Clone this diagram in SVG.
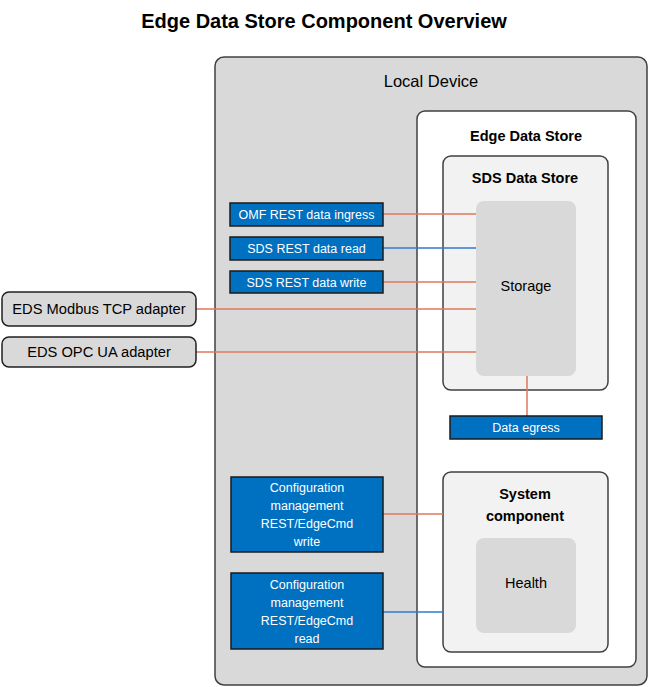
<svg xmlns="http://www.w3.org/2000/svg" width="649" height="687" viewBox="0 0 649 687">
<style>
text{font-family:"Liberation Sans",Arial,sans-serif;text-anchor:middle;fill:#000}
.cont{stroke:#404040;stroke-width:1.5}
.blue{fill:#0070c0;stroke:#1a1a1a;stroke-width:1.5}
.bt{fill:#fff;font-size:12.5px}
.adp{fill:#d9d9d9;stroke:#202020;stroke-width:1.5}
.o{stroke:#e0775a;stroke-width:1.5;fill:none}
.b{stroke:#2f7ad0;stroke-width:1.5;fill:none}
.bold{font-weight:bold}
</style>
<rect width="649" height="687" fill="#fff"/>
<text x="324" y="28" class="bold" font-size="20">Edge Data Store Component Overview</text>
<g id="local-device">
<rect x="215" y="57" width="432" height="628" rx="9" fill="#d9d9d9" class="cont"/>
<text x="431" y="87" font-size="16.5">Local Device</text>
</g>
<g id="edge-data-store">
<rect x="417" y="111" width="219" height="556" rx="8" fill="#fff" class="cont"/>
<text x="526" y="141" class="bold" font-size="14.5">Edge Data Store</text>
</g>
<g id="sds-data-store">
<rect x="443" y="156" width="165" height="234" rx="8" fill="#f2f2f2" class="cont"/>
<text x="525" y="183" class="bold" font-size="14.5">SDS Data Store</text>
</g>
<g id="storage">
<rect x="476" y="201" width="100" height="175" rx="8" fill="#d9d9d9"/>
<text x="526" y="291" font-size="14.5">Storage</text>
</g>
<g id="system-component">
<rect x="443" y="472" width="165" height="180" rx="8" fill="#f2f2f2" class="cont"/>
<text x="525" y="499" class="bold" font-size="14.5">System</text>
<text x="525" y="521" class="bold" font-size="14.5">component</text>
</g>
<g id="health">
<rect x="476" y="538" width="100" height="95" rx="8" fill="#d9d9d9"/>
<text x="526" y="588" font-size="14.5">Health</text>
</g>
<g id="connectors">
<line x1="383" y1="214" x2="476" y2="214" class="o"/>
<line x1="383" y1="248" x2="476" y2="248" class="b"/>
<line x1="383" y1="282" x2="476" y2="282" class="o"/>
<line x1="196" y1="309" x2="476" y2="309" class="o"/>
<line x1="196" y1="352" x2="476" y2="352" class="o"/>
<line x1="527" y1="376" x2="527" y2="416" class="o"/>
<line x1="383" y1="514" x2="443" y2="514" class="o"/>
<line x1="383" y1="612" x2="443" y2="612" class="b"/>
</g>
<g id="omf-ingress">
<rect x="230" y="203" width="153" height="23" class="blue"/>
<text x="306.5" y="219" class="bt">OMF REST data ingress</text>
</g>
<g id="sds-read">
<rect x="230" y="237" width="153" height="23" class="blue"/>
<text x="306.5" y="253" class="bt">SDS REST data read</text>
</g>
<g id="sds-write">
<rect x="230" y="271" width="153" height="22" class="blue"/>
<text x="306.5" y="286.5" class="bt">SDS REST data write</text>
</g>
<g id="modbus-adapter">
<rect x="2" y="292" width="194" height="34" rx="7" class="adp"/>
<text x="99" y="314" font-size="14.7">EDS Modbus TCP adapter</text>
</g>
<g id="opcua-adapter">
<rect x="2" y="337" width="194" height="30" rx="7" class="adp"/>
<text x="99" y="357" font-size="14.7">EDS OPC UA adapter</text>
</g>
<g id="data-egress">
<rect x="450" y="416" width="152" height="23" class="blue"/>
<text x="526" y="432" class="bt">Data egress</text>
</g>
<g id="config-write">
<rect x="231" y="477" width="152" height="75" class="blue"/>
<text x="307" y="492" class="bt">Configuration</text>
<text x="307" y="510" class="bt">management</text>
<text x="307" y="528" class="bt">REST/EdgeCmd</text>
<text x="307" y="546" class="bt">write</text>
</g>
<g id="config-read">
<rect x="231" y="573" width="152" height="76" class="blue"/>
<text x="307" y="589" class="bt">Configuration</text>
<text x="307" y="607" class="bt">management</text>
<text x="307" y="625" class="bt">REST/EdgeCmd</text>
<text x="307" y="643" class="bt">read</text>
</g>
</svg>
